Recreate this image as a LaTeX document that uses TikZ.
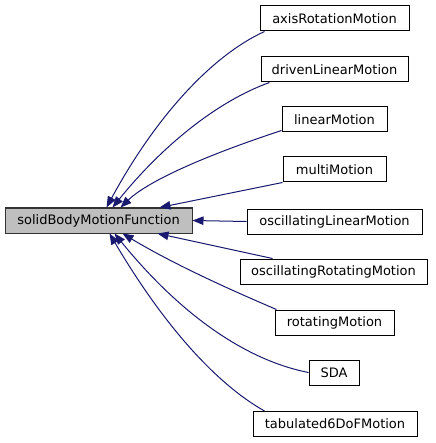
\documentclass[tikz,border=0pt]{standalone}
\usepackage{fontspec}
\setmainfont{DejaVu Sans}
\usetikzlibrary{arrows.meta}
\definecolor{edgeblue}{HTML}{191970}
\definecolor{rootfill}{HTML}{BFBFBF}
\begin{document}
\begin{tikzpicture}[x=1pt,y=-1pt,
  box/.style={draw=black, line width=1pt, minimum height=25pt, inner sep=0pt, font=\fontsize{13}{15}\selectfont},
  edge/.style={draw=edgeblue, line width=1pt, -{Triangle[length=11pt,width=8.5pt,fill=edgeblue]}}]
\fill[white] (0,0) rectangle (435,443);
\useasboundingbox (0,0) rectangle (435,443);
\node[box, fill=rootfill, draw=black!80, minimum width=187pt] (main) at (98.5,220.5) {solidBodyMotionFunction};
\node[box, minimum width=149pt] (axis) at (334.5,18.5) {axisRotationMotion};
\node[box, minimum width=147pt] (driven) at (334.5,69.5) {drivenLinearMotion};
\node[box, minimum width=105pt] (linear) at (334.5,119.5) {linearMotion};
\node[box, minimum width=103pt] (multi) at (334.5,169.5) {multiMotion};
\node[box, minimum width=175pt] (osclin) at (334.5,221.5) {oscillatingLinearMotion};
\node[box, minimum width=187pt] (oscrot) at (333.5,271.5) {oscillatingRotatingMotion};
\node[box, minimum width=119pt] (rot) at (334.5,322.5) {rotatingMotion};
\node[box, minimum width=50pt] (sda) at (334,372.5) {SDA};
\node[box, minimum width=164pt] (tab) at (335,424) {tabulated6DoFMotion};
\draw[edge] ([xshift=5pt]axis.south west) .. controls (211,56) and (155,118) .. ([xshift=102pt]main.north west);
\draw[edge] ([xshift=9pt]driven.south west) .. controls (218,101) and (163,145) .. ([xshift=108pt]main.north west);
\draw[edge] ([yshift=2pt]linear.south west) .. controls (201,157) and (147,182) .. ([xshift=116pt]main.north west);
\draw[edge] (multi.south west) -- ([xshift=155pt]main.north west);
\draw[edge] (osclin.west) -- (main.east);
\draw[edge] ([xshift=33pt]oscrot.north west) -- ([xshift=153pt]main.south west);
\draw[edge] ([xshift=2pt]rot.north west) .. controls (245,296) and (180,268) .. ([xshift=118pt]main.south west);
\draw[edge] (sda.west) .. controls (245,360) and (180,314) .. ([xshift=110pt]main.south west);
\draw[edge] ([xshift=12pt]tab.north west) .. controls (215,383) and (163,324) .. ([xshift=105pt]main.south west);
\end{tikzpicture}
\end{document}
